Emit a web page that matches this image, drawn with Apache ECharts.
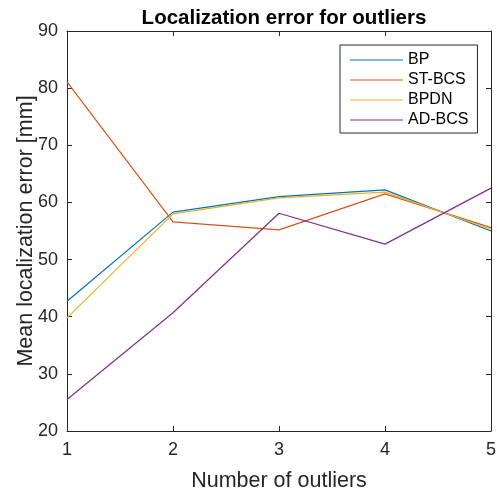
<!DOCTYPE html>
<html>
<head>
<meta charset="utf-8">
<script src="https://cdn.jsdelivr.net/npm/echarts@6/dist/echarts.min.js"></script>
<style>html,body{margin:0;padding:0;background:#fff}#c{width:497px;height:491px}</style>
</head>
<body>
<div id="c"></div>
<script>
var outliers = [1, 2, 3, 4, 5];
var bp     = [42.7, 58.3, 61.0, 62.2, 55.0];
var stbcs  = [81.1, 56.6, 55.2, 61.5, 55.6];
var bpdn   = [39.8, 58.0, 60.8, 61.8, 55.3];
var adbcs  = [25.5, 40.7, 58.1, 52.7, 62.5];
var seriesNames = ['BP', 'ST-BCS', 'BPDN', 'AD-BCS'];
var colors = ['#0072BD', '#D95319', '#EDB120', '#7E2F8E'];
var yTicks = [20, 30, 40, 50, 60, 70, 80, 90];

function pairs(ys) { return outliers.map(function (x, i) { return [x, ys[i]]; }); }
var allData = [bp, stbcs, bpdn, adbcs];

var axisColor = '#262626';
var font = 'Liberation Sans, Arial, Helvetica, sans-serif';
var chart = echarts.init(document.getElementById('c'));
var option = {
  animation: false,
  backgroundColor: '#fff',
  title: {
    text: 'Localization error for outliers',
    left: 279, top: 3, textAlign: 'center',
    textStyle: { fontFamily: font, fontSize: 20.5, fontWeight: 'bold', color: '#000' }
  },
  grid: { left: 67, right: 6, top: 31, bottom: 60, containLabel: false, outerBoundsMode: 'none' },
  legend: {
    data: seriesNames,
    orient: 'vertical',
    left: 340, top: 45,
    padding: [5, 9, 3, 10],
    itemGap: 0,
    itemWidth: 53, itemHeight: 1.2,
    icon: 'rect',
    borderColor: axisColor, borderWidth: 1,
    backgroundColor: '#fff',
    textStyle: { fontFamily: font, fontSize: 16, color: '#000', lineHeight: 20 }
  },
  xAxis: [{
    type: 'value', min: 1, max: 5, interval: 1,
    name: 'Number of outliers', nameLocation: 'middle', nameGap: 39, nameMoveOverlap: false,
    nameTextStyle: { fontFamily: font, fontSize: 21.5, color: axisColor },
    axisLine: { show: true, lineStyle: { color: axisColor, width: 1 } },
    axisTick: { show: true, inside: true, length: 5, lineStyle: { color: axisColor } },
    axisLabel: { fontFamily: font, fontSize: 18, color: axisColor, margin: 10 },
    splitLine: { show: false }
  }, {
    type: 'value', min: 1, max: 5, interval: 1, position: 'top',
    axisLine: { show: true, onZero: false, lineStyle: { color: axisColor, width: 1 } },
    axisTick: { show: true, inside: true, length: 5, lineStyle: { color: axisColor } },
    axisLabel: { show: false }, splitLine: { show: false }
  }],
  yAxis: [{
    type: 'value', min: yTicks[0], max: yTicks[yTicks.length - 1], interval: 10,
    name: 'Mean localization error [mm]', nameLocation: 'middle', nameGap: 30, nameMoveOverlap: false,
    nameTextStyle: { fontFamily: font, fontSize: 21.5, color: axisColor },
    axisLine: { show: true, lineStyle: { color: axisColor, width: 1 } },
    axisTick: { show: true, inside: true, length: 5, lineStyle: { color: axisColor } },
    axisLabel: { fontFamily: font, fontSize: 18, color: axisColor, margin: 9 },
    splitLine: { show: false }
  }, {
    type: 'value', min: yTicks[0], max: yTicks[yTicks.length - 1], interval: 10, position: 'right',
    axisLine: { show: true, onZero: false, lineStyle: { color: axisColor, width: 1 } },
    axisTick: { show: true, inside: true, length: 5, lineStyle: { color: axisColor } },
    axisLabel: { show: false }, splitLine: { show: false }
  }],
  series: seriesNames.map(function (n, i) {
    return {
      name: n, type: 'line', xAxisIndex: 0, yAxisIndex: 0,
      data: pairs(allData[i]),
      symbol: 'none', showSymbol: false,
      itemStyle: { color: colors[i] },
      lineStyle: { color: colors[i], width: 1.2 }
    };
  })
};
chart.setOption(option);
</script>
</body>
</html>
